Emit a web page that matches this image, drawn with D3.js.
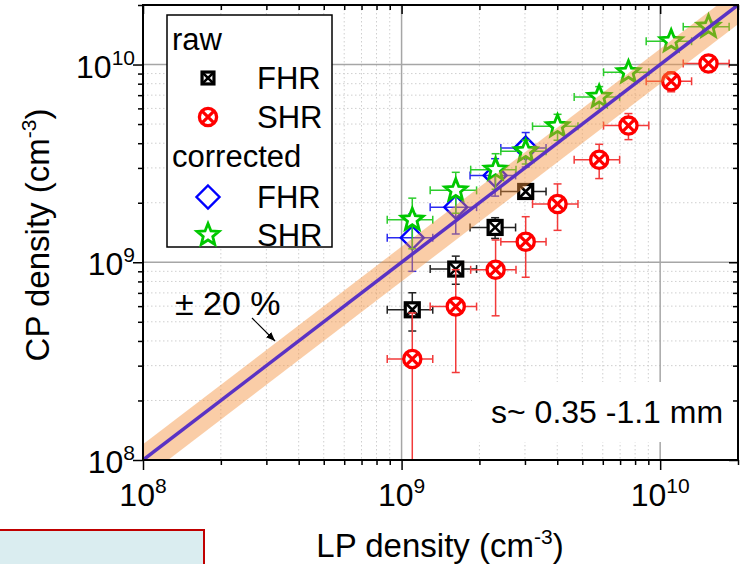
<!DOCTYPE html>
<html>
<head>
<meta charset="utf-8">
<script src="https://cdn.jsdelivr.net/npm/d3@7"></script>
<style>
  body { margin: 0; background: #fff; }
  svg { display: block; }
  text { font-family: "Liberation Sans", Arial, Helvetica, sans-serif; fill: #000; }
</style>
</head>
<body>
<svg id="chart" width="740" height="564"></svg>
<script>
// ---- Data: line-pair (LP) vs. cross-polarised (CP) density, cm^-3 ----
const fhrLP      = [1.10e9, 1.62e9, 2.30e9, 3.02e9];
const fhrLPErr   = [0.22e9, 0.33e9, 0.46e9, 0.60e9];
const fhrRawCP   = [5.75e8, 9.24e8, 1.50e9, 2.28e9];
const fhrRawErr  = [1.26e8, 1.50e8, 1.80e8, 1.50e8];
const fhrCorCP   = [1.33e9, 1.90e9, 2.75e9, 3.78e9];
const fhrCorErr  = [0.43e9, 0.51e9, 0.59e9, 0.75e9];

const shrLP      = [1.10e9, 1.62e9, 2.31e9, 3.02e9, 4.01e9, 5.81e9, 7.54e9, 1.103e10, 1.538e10];
const shrLPErr   = [0.22e9, 0.33e9, 0.46e9, 0.60e9, 0.80e9, 1.16e9, 1.50e9, 2.20e9, 3.10e9];
const shrRawCP   = [3.24e8, 5.97e8, 9.16e8, 1.27e9, 1.97e9, 3.30e9, 4.91e9, 8.23e9, 1.012e10];
const shrRawErr  = [2.30e8, 3.20e8, 3.80e8, 0.43e9, 0.52e9, 0.65e9, 0.74e9, 0.95e9, 0.70e9];
const shrCorCP   = [1.64e9, 2.31e9, 2.94e9, 3.64e9, 4.87e9, 6.86e9, 9.14e9, 1.312e10, 1.552e10];
const shrCorErr  = [0.47e9, 0.54e9, 0.60e9, 0.50e9, 0.73e9, 0.87e9, 0.60e9, 0.80e9, 1.00e9];

const xDomain = [1e8, 2e10];
const yDomain = [1e8, 2e10];
const majorTicks = [1e8, 1e9, 1e10];
const bandFraction = 0.20;           // ±20 % band around CP = LP
const bandLabel = "\u00B1 20 %";
const gapLabel = "s~ 0.35 -1.1 mm";
const xTitle = ["LP density (cm", "-3", ")"];
const yTitle = ["CP density (cm", "-3", ")"];

// ---- Layout ----
const svg = d3.select("#chart");
const P = { left: 143, right: 738, top: 5, bottom: 460 };
const x = d3.scaleLog().domain(xDomain).range([P.left, P.right]);
const y = d3.scaleLog().domain(yDomain).range([P.bottom, P.top]);

const minorTicks = [];
majorTicks.forEach(d => { for (let k = 2; k <= 9; k++) { const v = d * k; if (v <= xDomain[1]) minorTicks.push(v); } });

svg.append("defs").append("clipPath").attr("id", "plotClip")
  .append("rect").attr("x", P.left).attr("y", P.top)
  .attr("width", P.right - P.left).attr("height", P.bottom - P.top);

// light box at the lower left of the page
svg.append("rect").attr("x", -3).attr("y", 530).attr("width", 207).attr("height", 45)
  .attr("fill", "#daedf0").attr("stroke", "#c00000").attr("stroke-width", 2);

// ---- Grid ----
const grid = svg.append("g");
grid.selectAll(".gxm").data(minorTicks).join("line")
  .attr("x1", d => x(d)).attr("x2", d => x(d)).attr("y1", P.top).attr("y2", P.bottom)
  .attr("stroke", "#cfcfcf").attr("stroke-width", 1).attr("stroke-dasharray", "1.5,2.5");
grid.selectAll(".gym").data(minorTicks).join("line")
  .attr("y1", d => y(d)).attr("y2", d => y(d)).attr("x1", P.left).attr("x2", P.right)
  .attr("stroke", "#cfcfcf").attr("stroke-width", 1).attr("stroke-dasharray", "1.5,2.5");
grid.selectAll(".gxM").data(majorTicks.slice(1)).join("line")
  .attr("x1", d => x(d)).attr("x2", d => x(d)).attr("y1", P.top).attr("y2", P.bottom)
  .attr("stroke", "#a6a6a6").attr("stroke-width", 1.5);
grid.selectAll(".gyM").data(majorTicks.slice(1)).join("line")
  .attr("y1", d => y(d)).attr("y2", d => y(d)).attr("x1", P.left).attr("x2", P.right)
  .attr("stroke", "#a6a6a6").attr("stroke-width", 1.5);

// ---- Markers ----
function starPath(ro, ri) {
  const pts = [];
  for (let i = 0; i < 10; i++) {
    const r = i % 2 ? ri : ro;
    const a = -Math.PI / 2 + i * Math.PI / 5;
    pts.push([r * Math.cos(a), r * Math.sin(a)]);
  }
  return "M" + pts.map(p => p[0].toFixed(2) + "," + p[1].toFixed(2)).join("L") + "Z";
}
const markers = {
  square(g, c, s) {
    const h = 7 * s;
    g.append("rect").attr("x", -h).attr("y", -h).attr("width", 2 * h).attr("height", 2 * h)
      .attr("fill", "#fff").attr("stroke", c).attr("stroke-width", 3.2);
    g.append("path").attr("d", `M${-h},${-h}L${h},${h}M${h},${-h}L${-h},${h}`)
      .attr("stroke", c).attr("stroke-width", 2.6);
  },
  circle(g, c, s) {
    const r = 8.6 * s, q = r * 0.72;
    g.append("circle").attr("r", r).attr("fill", "#fff").attr("stroke", c).attr("stroke-width", 3.3);
    g.append("path").attr("d", `M${-q},${-q}L${q},${q}M${q},${-q}L${-q},${q}`)
      .attr("stroke", c).attr("stroke-width", 3.2);
  },
  diamond(g, c, s) {
    const h = 11.5 * s;
    g.append("path").attr("d", `M0,${-h}L${h},0L0,${h}L${-h},0Z`)
      .attr("fill", "none").attr("stroke", c).attr("stroke-width", 2.4);
  },
  star(g, c, s) {
    g.append("path").attr("d", starPath(11.5 * s, 5 * s))
      .attr("fill", "#fff").attr("stroke", c).attr("stroke-width", 2.8).attr("stroke-linejoin", "miter");
  }
};

function series(xs, xe, ys, ye, marker, color, barColor) {
  const data = xs.map((v, i) => ({ x: v, xe: xe[i], y: ys[i], ye: ye[i] }));
  const g = svg.append("g").attr("clip-path", "url(#plotClip)");
  const cap = 4;
  data.forEach(d => {
    const cx = x(d.x), cy = y(d.y);
    const xl = x(d.x - d.xe), xr = x(d.x + d.xe);
    const yt = y(d.y + d.ye);
    const low = d.y - d.ye;
    const yb = low > 0 ? y(low) : P.bottom + 20;
    const eb = g.append("g").attr("stroke", barColor).attr("stroke-width", 1.5).attr("fill", "none");
    eb.append("line").attr("x1", xl).attr("x2", xr).attr("y1", cy).attr("y2", cy);
    eb.append("line").attr("x1", cx).attr("x2", cx).attr("y1", yt).attr("y2", yb);
    eb.append("line").attr("x1", xl).attr("x2", xl).attr("y1", cy - cap).attr("y2", cy + cap);
    eb.append("line").attr("x1", xr).attr("x2", xr).attr("y1", cy - cap).attr("y2", cy + cap);
    eb.append("line").attr("x1", cx - cap).attr("x2", cx + cap).attr("y1", yt).attr("y2", yt);
    if (low > 0) eb.append("line").attr("x1", cx - cap).attr("x2", cx + cap).attr("y1", yb).attr("y2", yb);
  });
  data.forEach(d => {
    const m = g.append("g").attr("transform", `translate(${x(d.x)},${y(d.y)})`);
    markers[marker](m, color, 1);
  });
}

series(fhrLP, fhrLPErr, fhrRawCP, fhrRawErr, "square", "#000", "#222");
series(shrLP, shrLPErr, shrRawCP, shrRawErr, "circle", "#ff0000", "#f23a3a");
series(fhrLP, fhrLPErr, fhrCorCP, fhrCorErr, "diamond", "#0000ff", "#2a2af0");
series(shrLP, shrLPErr, shrCorCP, shrCorErr, "star", "#00c800", "#2ccc2c");

// ---- ±20 % band and CP = LP line ----
const over = svg.append("g").attr("clip-path", "url(#plotClip)");
const bandPts = [
  [xDomain[0], xDomain[0] * (1 + bandFraction)],
  [xDomain[1], xDomain[1] * (1 + bandFraction)],
  [xDomain[1], xDomain[1] * (1 - bandFraction)],
  [xDomain[0], xDomain[0] * (1 - bandFraction)]
];
over.append("path")
  .attr("d", "M" + bandPts.map(p => x(p[0]) + "," + y(p[1])).join("L") + "Z")
  .attr("fill", "rgb(243,145,60)").attr("fill-opacity", 0.45);
over.append("line")
  .attr("x1", x(xDomain[0])).attr("y1", y(xDomain[0]))
  .attr("x2", x(xDomain[1])).attr("y2", y(xDomain[1]))
  .attr("stroke", "#5a32c4").attr("stroke-width", 3.5);

// ---- Annotations ----
svg.append("text").attr("x", 175).attr("y", 315).attr("font-size", 34).text(bandLabel);
svg.append("defs").append("marker").attr("id", "arrowHead")
  .attr("viewBox", "0 0 10 10").attr("refX", 10).attr("refY", 5)
  .attr("markerWidth", 9).attr("markerHeight", 9).attr("markerUnits", "userSpaceOnUse")
  .attr("orient", "auto")
  .append("path").attr("d", "M0,1L10,5L0,9Z").attr("fill", "#000");
svg.append("line").attr("x1", 252).attr("y1", 318).attr("x2", 275).attr("y2", 341)
  .attr("stroke", "#000").attr("stroke-width", 1.2).attr("marker-end", "url(#arrowHead)");

svg.append("rect").attr("x", 472).attr("y", 382).attr("width", 265).attr("height", 60).attr("fill", "#fff");
svg.append("text").attr("x", 491).attr("y", 423).attr("font-size", 32).text(gapLabel);

// ---- Axes ----
const ax = svg.append("g");
function axisGroup(axis) { const g = ax.append("g").call(axis); g.select(".domain").remove(); g.selectAll("line").attr("stroke", "#000").attr("stroke-width", 1.5); g.selectAll("text").remove(); return g; }
axisGroup(d3.axisBottom(x).tickValues(majorTicks).tickSize(10)).attr("transform", `translate(0,${P.bottom})`);
axisGroup(d3.axisBottom(x).tickValues(minorTicks).tickSize(5)).attr("transform", `translate(0,${P.bottom})`);
axisGroup(d3.axisTop(x).tickValues(majorTicks).tickSize(-9)).attr("transform", `translate(0,${P.top})`);
axisGroup(d3.axisTop(x).tickValues(minorTicks).tickSize(-5)).attr("transform", `translate(0,${P.top})`);
axisGroup(d3.axisLeft(y).tickValues(majorTicks).tickSize(10)).attr("transform", `translate(${P.left},0)`);
axisGroup(d3.axisLeft(y).tickValues(minorTicks).tickSize(5)).attr("transform", `translate(${P.left},0)`);
axisGroup(d3.axisRight(y).tickValues(majorTicks).tickSize(-9)).attr("transform", `translate(${P.right},0)`);
axisGroup(d3.axisRight(y).tickValues(minorTicks).tickSize(-5)).attr("transform", `translate(${P.right},0)`);

ax.append("rect").attr("x", P.left).attr("y", P.top).attr("width", P.right - P.left).attr("height", P.bottom - P.top)
  .attr("fill", "none").attr("stroke", "#000").attr("stroke-width", 2);

function powLabel(sel, v) {
  sel.append("tspan").text("10");
  sel.append("tspan").attr("font-size", 21).attr("dy", -13).text(Math.round(Math.log10(v)));
}
majorTicks.forEach(v => {
  const t = svg.append("text").attr("x", x(v)).attr("y", 506).attr("font-size", 32).attr("text-anchor", "middle");
  powLabel(t, v);
  const u = svg.append("text").attr("x", 135).attr("y", y(v) + 13).attr("font-size", 32).attr("text-anchor", "end");
  powLabel(u, v);
});

function title(t, parts) {
  t.append("tspan").text(parts[0]);
  t.append("tspan").attr("font-size", 21).attr("dy", -13).text(parts[1]);
  t.append("tspan").attr("dy", 13).text(parts[2]);
}
title(svg.append("text").attr("x", 440).attr("y", 557).attr("font-size", 33).attr("text-anchor", "middle"), xTitle);
title(svg.append("text").attr("transform", "translate(49,235) rotate(-90)").attr("font-size", 33).attr("text-anchor", "middle"), yTitle);

// ---- Legend ----
const lg = svg.append("g");
lg.append("rect").attr("x", 167).attr("y", 15).attr("width", 165).attr("height", 232)
  .attr("fill", "#fff").attr("stroke", "#000").attr("stroke-width", 1.5);
const legendRows = [
  { head: "raw", y: 50 },
  { label: "FHR", marker: "square", color: "#000", y: 78 },
  { label: "SHR", marker: "circle", color: "#ff0000", y: 117 },
  { head: "corrected", y: 167 },
  { label: "FHR", marker: "diamond", color: "#0000ff", y: 197 },
  { label: "SHR", marker: "star", color: "#00c800", y: 235 }
];
legendRows.forEach(r => {
  if (r.head) {
    lg.append("text").attr("x", 172).attr("y", r.y).attr("font-size", 31).text(r.head);
  } else {
    const m = lg.append("g").attr("transform", `translate(208,${r.y})`);
    markers[r.marker](m, r.color, r.marker === "square" ? 0.85 : 1);
    lg.append("text").attr("x", 257).attr("y", r.y + 10.5).attr("font-size", 31).text(r.label);
  }
});
</script>
</body>
</html>
